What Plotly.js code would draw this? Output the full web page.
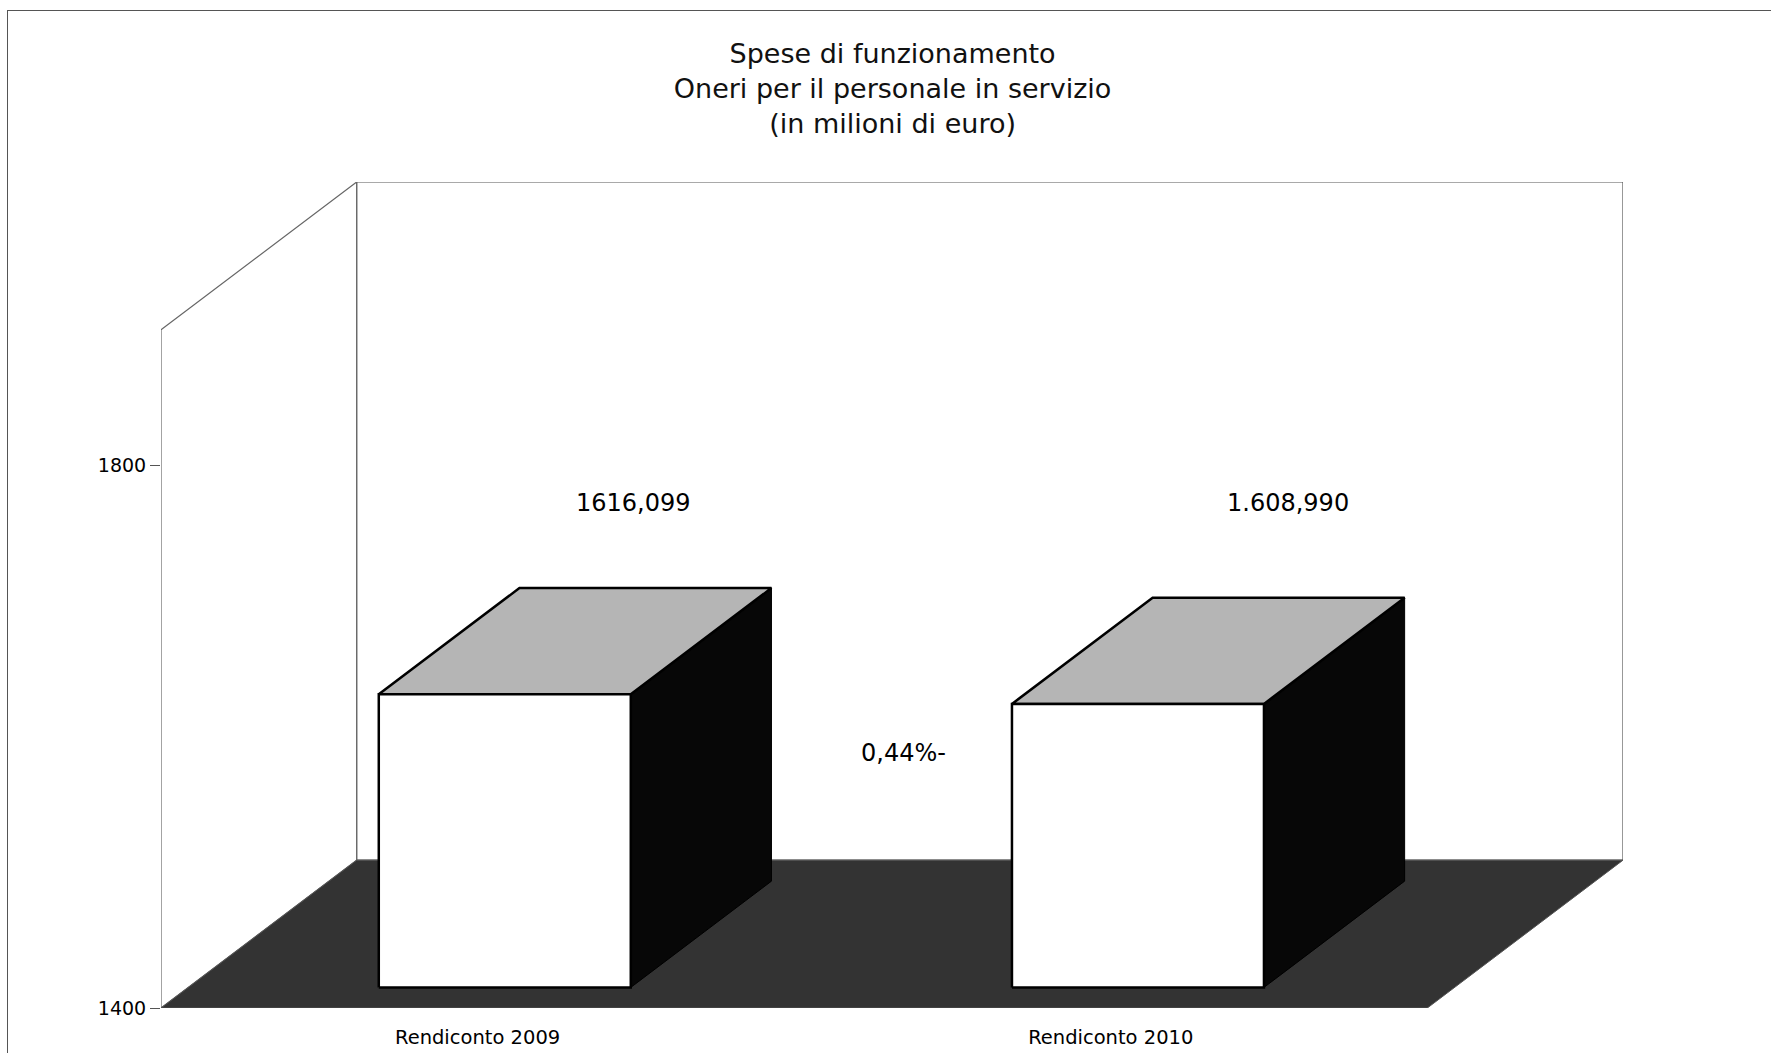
<!DOCTYPE html>
<html><head><meta charset="utf-8">
<script src="https://cdn.plot.ly/plotly-3.0.1.min.js"></script>
<style>
html,body{margin:0;padding:0;background:#fff;}
#chart{width:1771px;height:1053px;}
#frame{position:absolute;left:7px;top:10px;width:1770px;height:1050px;border-left:1px solid #555;border-top:1px solid #555;pointer-events:none;}
</style>
</head><body>
<div id="chart"></div><div id="frame"></div>
<script>
// ---- data ----
const categories = ['Rendiconto 2009', 'Rendiconto 2010'];
const values = [1616.099, 1608.990];
const valueLabels = ['1616,099', '1.608,990'];
const changeLabel = '0,44%-';
const yTickVals = [1400, 1800];
const yMin = 1400, yMax = 1900;

// ---- 3D projection geometry (style) ----
const DX = 0.309;   // depth shift in category units
const DY = 109;     // depth shift in value units
const Z0 = 0.139, Z1 = 0.858; // bar front/back depth
const HALF = 0.199; // bar half width
const nCat = categories.length;
const xs = categories.map((_, i) => i + 0.5);
const FONT = 'DejaVu Sans, Verdana, sans-serif';

function P(x, y, z) { return [x + z * DX, y + z * DY]; }
function poly(pts, fill, lc, lw) {
  const p = pts.concat([pts[0]]);
  return {type: 'scatter', mode: 'lines', x: p.map(q => q[0]), y: p.map(q => q[1]),
    fill: 'toself', fillcolor: fill, line: {color: lc, width: lw}, hoverinfo: 'skip', showlegend: false};
}

const traces = [];
// back wall
traces.push(poly([P(0, yMin, 1), P(nCat, yMin, 1), P(nCat, yMax, 1), P(0, yMax, 1)], '#ffffff', '#555', 1.2));
// left wall
traces.push(poly([P(0, yMin, 0), P(0, yMin, 1), P(0, yMax, 1), P(0, yMax, 0)], '#ffffff', '#666', 1.2));
// floor
traces.push(poly([P(0, yMin, 0), P(nCat, yMin, 0), P(nCat, yMin, 1), P(0, yMin, 1)], '#333333', '#555', 1));

values.forEach((v, i) => {
  const L = xs[i] - HALF, R = xs[i] + HALF;
  // right side
  traces.push(poly([P(R, yMin, Z0), P(R, yMin, Z1), P(R, v, Z1), P(R, v, Z0)], '#070707', '#000', 1));
  // top
  traces.push(poly([P(L, v, Z0), P(R, v, Z0), P(R, v, Z1), P(L, v, Z1)], '#b5b5b5', '#000', 2.5));
  // front
  traces.push(poly([P(L, yMin, Z0), P(R, yMin, Z0), P(R, v, Z0), P(L, v, Z0)], '#ffffff', '#000', 2.5));
});

const labelDx = [0.247, 0.28];
const labelY = 1772;
const annotations = values.map((v, i) => ({
  x: xs[i] + labelDx[i], y: labelY, text: valueLabels[i], showarrow: false,
  font: {family: FONT, size: 24, color: '#000'}
}));
annotations.push({x: (xs[0] + xs[1]) / 2 + 0.173, y: 1588, text: changeLabel, showarrow: false,
  font: {family: FONT, size: 24, color: '#000'}});

const layout = {
  width: 1771, height: 1053,
  paper_bgcolor: '#fff', plot_bgcolor: 'rgba(0,0,0,0)',
  font: {family: FONT, color: '#000'},
  margin: {l: 161, r: 148, t: 182, b: 45},
  title: {text: 'Spese di funzionamento<br>Oneri per il personale in servizio<br>(in milioni di euro)',
    font: {family: FONT, size: 27, color: '#111'}, x: 0.504, xref: 'container', xanchor: 'center',
    y: 1 - 63 / 1053, yref: 'container', yanchor: 'top'},
  xaxis: {range: [0, nCat + DX], tickvals: xs, ticktext: categories, showgrid: false, zeroline: false,
    showline: false, ticks: '', tickfont: {size: 19.5}, ticklabelstandoff: 15, automargin: false, fixedrange: true},
  yaxis: {range: [yMin, yMax + DY], tickvals: yTickVals, ticks: 'outside', ticklen: 10, tickcolor: '#555',
    showgrid: false, zeroline: false, showline: false, tickfont: {size: 19}, automargin: false, fixedrange: true},
  annotations: annotations,
  showlegend: false
};
Plotly.newPlot('chart', traces, layout, {displayModeBar: false, staticPlot: true});
</script>
</body></html>
